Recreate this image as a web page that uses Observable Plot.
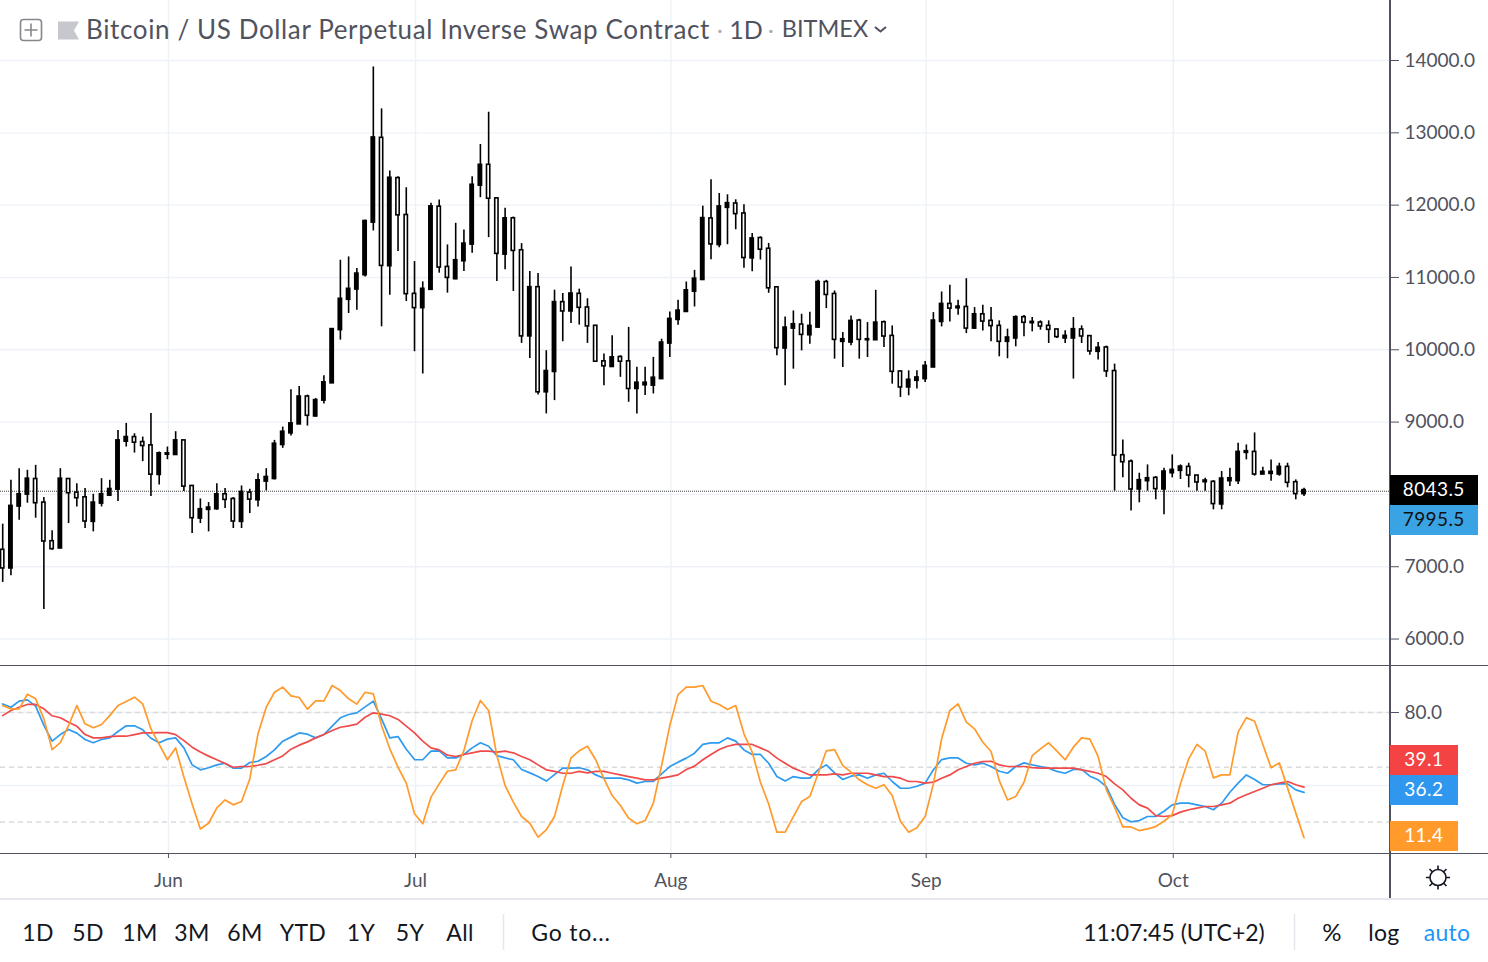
<!DOCTYPE html>
<html><head><meta charset="utf-8">
<script src="https://cdn.jsdelivr.net/npm/d3@7"></script>
<script src="https://cdn.jsdelivr.net/npm/@observablehq/plot@0.6"></script>
<style>
html,body{margin:0;padding:0;background:#fff;width:1488px;height:962px;overflow:hidden;font-family:Lato,sans-serif;}
#stage{position:relative;width:1488px;height:962px;overflow:hidden;}
#price,#osc{position:absolute;left:0;}
#price{top:0}#osc{top:665px}
svg{display:block}
.ln{position:absolute;background:#50535e}
.t{position:absolute;white-space:nowrap;line-height:1;transform:translate(-50%,-50%);letter-spacing:.3px;color:#131722;font-size:23px}
.tag{position:absolute;left:1389.5px;box-sizing:border-box;padding-bottom:3px;display:flex;align-items:center;justify-content:center;font-size:19px;letter-spacing:.4px;color:#fff}
</style></head><body><div id="stage"><div id="price"></div><div id="osc"></div></div>
<script>
const startDate = Date.UTC(2019, 4, 12);
const monthTicks = ["2019-06-01T03:00Z","2019-07-01T03:00Z","2019-08-01T03:00Z","2019-09-01T03:00Z","2019-10-01T03:00Z"];
const priceTicks = [6000,7000,8000,9000,10000,11000,12000,13000,14000];
const priceLabels = [6000,7000,9000,10000,11000,12000,13000,14000];
const oscTicks = [40,80];
const oscBands = [80,50,20];
const lastPrice = 8043.5, markPrice = 7995.5;
const oscLast = {red:"39.1",blue:"36.2",orange:"11.4"};
const ranges = ["1D","5D","1M","3M","6M","YTD","1Y","5Y","All"];

const opens = [7234,6976,7832,7997,8213,7887,7353,7252,8213,8025,7960,7620,7873,7983,8066,8729,8793,8724,8678,8269,8549,8545,8747,8117,7666,7786,7795,8002,7937,7620,8025,7919,8177,8213,8683,8844,8968,9354,9078,9297,9536,10272,10691,10833,11031,11758,12931,11155,12374,11864,10774,10576,10829,11979,11146,10976,11224,11454,12269,12558,12094,11316,11818,11376,10185,10866,9412,9693,10659,10530,10774,10585,10332,9840,9762,9900,9840,9458,9509,9504,9594,10086,10413,10523,10804,10965,11816,11448,11963,12023,11885,11264,11545,11397,10864,10017,10293,10349,10201,10307,10937,10772,10109,10100,10404,10132,10132,10381,10192,9700,9479,9571,9594,9755,10385,10634,10574,10592,10293,10491,10400,10331,10110,10156,10451,10368,10377,10331,10281,10156,10156,10281,10189,9972,10032,9706,8542,8454,8068,8183,8229,8068,8293,8326,8381,8261,8169,8174,7861,8183,8183,8574,8588,8275,8284,8275,8381,8169,8004];
const closes = [6976,7841,8002,8218,7878,7349,7243,8218,8016,7947,7625,7887,8002,8075,8747,8793,8715,8669,8273,8568,8568,8747,8108,7671,7795,7818,8002,7924,7625,8034,7928,8195,8241,8701,8867,8982,9354,9087,9304,9550,10286,10705,10843,11054,11781,12936,11160,12379,11859,10769,10576,10843,11983,11137,10994,11238,11468,12282,12558,12089,11326,11818,11367,10185,10866,9412,9706,10659,10530,10778,10580,10323,9835,9771,9895,9835,9458,9545,9545,9614,10100,10427,10542,10822,10983,11821,11457,11982,12028,11876,11269,11540,11384,10850,10022,10307,10353,10206,10330,10937,10758,10137,10146,10399,10137,10146,10376,10183,9695,9479,9585,9617,9778,10404,10634,10569,10597,10293,10491,10390,10327,10110,10170,10451,10373,10386,10322,10276,10175,10193,10285,10184,9977,10028,9701,8537,8445,8068,8197,8224,8073,8316,8339,8385,8261,8165,8192,7866,8220,8224,8588,8597,8275,8312,8312,8381,8160,8004,8059];
const highs = [7588,8195,8356,8333,8402,7956,7496,8356,8218,8149,8080,8002,8218,8195,8885,8982,8839,8793,9120,8586,8655,8867,8747,8117,7937,7887,8149,8080,7956,8117,8071,8287,8356,8747,8931,9446,9492,9373,9327,9642,10286,11238,11284,11123,11790,13911,13331,12471,12393,12241,11220,10939,12025,12071,11450,11749,11657,12393,12839,13285,12094,11956,11836,11468,11082,11054,9987,10824,10778,11146,10838,10705,10332,9941,10194,9918,10309,9757,9757,9895,10146,10523,10684,10937,11098,11986,12350,12161,12143,12074,12005,11609,11563,11471,10864,10454,10537,10491,10519,10960,10960,10813,10238,10468,10422,10376,10822,10399,10330,9709,9709,9709,9838,10514,10799,10891,10684,10983,10583,10615,10584,10400,10285,10469,10474,10446,10400,10400,10285,10262,10446,10331,10193,10101,10051,9802,8753,8477,8293,8408,8247,8362,8546,8408,8431,8266,8224,8192,8316,8362,8707,8684,8850,8376,8477,8431,8431,8201,8086];
const lows = [6783,6875,7643,7878,7671,6410,7229,7252,7597,7827,7528,7482,7827,7970,7901,8655,8572,8453,7970,8131,8480,8545,8039,7459,7597,7482,7781,7804,7528,7528,7735,7827,8048,8200,8637,8807,8968,8945,9069,9251,9536,10134,10502,10548,11008,11643,10318,10755,11358,10668,9973,9665,10829,11059,10783,10967,11082,11335,12103,11551,10944,11105,10806,10088,9881,9375,9113,9297,10111,10364,10341,10088,9826,9504,9757,9619,9274,9113,9366,9389,9594,9893,10339,10523,10592,10965,11246,11411,11453,11660,11126,11080,11241,10781,9916,9502,9732,9985,10077,10293,10569,9870,9755,10054,9870,9893,10132,10031,9525,9341,9364,9456,9548,9755,10316,10385,10477,10224,10284,10261,10110,9903,9876,10041,10179,10248,10271,10087,10156,10087,9595,10087,9926,9857,9618,8045,8229,7769,7884,8045,7925,7718,8229,8206,8091,8045,8045,7787,7787,8109,8137,8477,8252,8275,8183,8252,8091,7925,7971];

const orange = [83.8,82.0,82.0,90.0,87.5,76.5,59.7,63.5,72.9,83.8,73.8,71.6,73.4,78.3,83.8,86.0,88.4,84.7,71.0,62.5,54.1,60.6,44.6,29.9,16.2,19.3,27.7,32.1,29.4,31.2,43.6,68.3,82.9,91.1,93.9,89.1,88.2,81.8,86.4,86.4,94.8,92.0,87.5,84.6,91.1,90.2,72.9,60.1,50.0,41.3,24.5,19.0,33.6,40.9,47.8,48.6,59.2,75.6,86.6,81.1,56.4,40.0,30.9,23.0,19.3,11.7,15.7,23.0,40.0,55.1,59.0,61.5,54.1,43.6,34.5,29.0,22.1,19.0,20.8,30.3,50.9,72.9,89.8,93.9,93.9,94.8,86.2,84.4,81.6,83.8,68.3,58.3,41.8,29.9,14.4,14.4,23.0,31.2,34.0,46.4,59.0,59.7,50.9,47.3,43.1,40.4,38.5,40.4,34.5,20.4,14.4,16.8,23.0,40.9,65.6,81.1,84.7,74.7,71.0,63.7,58.6,42.7,32.1,34.0,41.8,56.4,60.1,63.4,58.8,54.1,61.0,66.1,65.4,55.9,37.6,28.1,17.3,17.3,15.3,16.2,17.5,20.4,24.1,40.9,54.6,62.5,58.8,44.2,45.8,45.8,69.2,77.2,75.2,62.5,49.7,52.4,38.7,25.0,11.4];
const blue = [84.7,82.9,86.2,86.9,83.5,72.9,64.3,67.9,70.7,68.7,65.2,63.4,65.2,66.1,69.6,72.7,72.7,70.5,65.9,63.4,65.4,66.1,60.6,51.3,48.6,49.7,51.3,52.2,49.5,49.5,52.6,53.3,55.9,59.5,64.3,66.5,68.8,68.1,66.1,67.9,72.5,77.1,78.9,79.8,83.1,86.2,76.5,66.1,66.8,59.9,54.2,54.1,58.8,59.0,55.1,55.1,57.0,60.6,63.4,61.5,56.4,55.1,54.1,48.8,46.9,44.9,42.4,46.0,49.5,49.5,49.7,48.6,45.8,44.0,44.0,44.0,43.1,41.3,42.2,42.2,46.4,50.4,52.8,55.0,57.7,62.5,63.4,63.4,66.1,64.3,59.5,57.0,57.0,52.2,44.9,42.4,44.9,44.0,44.0,48.6,51.3,46.9,43.3,45.1,45.8,44.0,45.8,46.7,42.2,38.5,38.5,39.6,41.3,48.6,54.2,55.1,55.1,52.2,51.3,52.2,50.4,47.8,46.7,50.4,52.4,51.3,50.4,49.5,47.7,46.7,48.8,48.8,45.1,43.1,39.4,29.6,22.3,20.1,20.8,23.0,23.0,25.9,29.4,30.3,30.3,29.4,28.5,26.7,30.3,36.3,41.3,45.8,43.3,40.4,40.4,40.9,40.9,37.6,36.2];
const red = [78.3,81.1,82.9,84.4,84.4,82.0,78.2,77.1,74.7,72.5,67.9,66.1,66.1,66.8,67.0,67.0,67.9,68.8,68.8,69.0,69.0,67.9,64.6,61.0,58.3,56.1,54.1,52.0,50.0,50.4,50.4,51.1,52.0,54.1,56.2,59.9,62.1,63.9,66.1,67.9,70.1,71.9,72.7,73.6,77.4,79.8,79.1,78.2,76.2,72.5,68.8,64.3,60.6,59.5,56.6,55.9,57.0,57.9,58.8,58.8,58.3,58.8,57.9,55.9,54.1,51.3,48.6,47.7,46.7,46.7,47.7,46.9,47.7,47.7,46.7,45.8,44.9,44.0,43.1,43.1,44.0,44.9,45.8,48.8,50.6,54.1,57.0,59.7,61.5,62.5,62.5,62.5,60.6,58.6,55.0,52.2,49.5,47.7,45.8,45.8,45.8,46.4,45.8,46.7,46.7,46.7,45.8,44.9,44.9,44.0,42.2,42.2,41.3,41.8,44.0,45.8,48.6,50.4,52.2,53.1,53.3,51.3,50.4,50.4,50.4,49.8,49.5,49.5,49.5,49.5,49.5,48.6,47.7,46.7,44.9,40.9,37.6,33.0,29.4,27.6,23.5,23.0,23.5,25.4,26.7,27.6,28.5,28.5,29.4,30.3,33.0,34.9,36.7,38.5,40.4,41.3,42.2,40.4,39.1];

const DAY = 864e5;
const dateAt = i => new Date(startDate + i*DAY);
const candles = opens.map((o,i)=>({date:dateAt(i),open:o,close:closes[i],high:highs[i],low:lows[i],up:closes[i]>=o}));
const xDomain = [new Date(startDate-0.267*DAY), new Date(startDate+168.5*DAY)];
const font = "Lato, sans-serif";
const tickCol = "#50535e", gridCol = "#eef2f8";
const monthDates = monthTicks.map(d=>new Date(d));
const HW = 0.2*DAY;

const pricePlot = Plot.plot({
  width:1488,height:665,marginLeft:0,marginRight:98,marginTop:0,marginBottom:0,
  style:{fontFamily:font,background:"transparent",overflow:"visible"},
  x:{type:"utc",domain:xDomain,range:[0,1390],axis:null},
  y:{domain:[5634,14830],range:[665,0],axis:null},
  marks:[
    Plot.ruleY(priceTicks,{stroke:gridCol,strokeWidth:1.4}),
    Plot.ruleX(monthDates,{stroke:gridCol,strokeWidth:1.4}),
    Plot.ruleY([lastPrice],{stroke:"#444",strokeDasharray:"1 1",strokeWidth:1.2}),
    Plot.ruleX(candles,{x:"date",y1:"low",y2:"high",stroke:"#000",strokeWidth:1.6}),
    Plot.rect(candles,{x1:d=>new Date(+d.date-HW),x2:d=>new Date(+d.date+HW),y1:"open",y2:"close",fill:d=>d.up?"#000":"#fff",stroke:"#000",strokeWidth:1.6}),
    Plot.axisY(priceLabels,{anchor:"right",label:null,tickSize:8,tickPadding:6,fontSize:19,stroke:tickCol,color:tickCol,tickFormat:d3.format(".1f")})
  ]
});
document.getElementById("price").append(pricePlot);

const series = [["orange",orange,"#ff9a2b"],["blue",blue,"#2f9bf0"],["red",red,"#f04b4b"]];
const oscPlot = Plot.plot({
  width:1488,height:233,marginLeft:0,marginRight:98,marginTop:0,marginBottom:45,
  style:{fontFamily:font,background:"transparent",overflow:"visible"},
  x:{type:"utc",domain:xDomain,range:[0,1390],axis:null},
  y:{domain:[2.74,105.75],range:[188,0],axis:null},
  marks:[
    Plot.ruleY(oscTicks,{stroke:gridCol,strokeWidth:1.4}),
    Plot.ruleX(monthDates,{stroke:gridCol,strokeWidth:1.4}),
    Plot.ruleY(oscBands,{stroke:"#d9dadb",strokeWidth:1.4,strokeDasharray:"5 4"}),
    ...[series[1],series[2],series[0]].map(([n,v,c])=>Plot.line(v,{x:(d,i)=>dateAt(i),y:d=>d,stroke:c,strokeWidth:1.7,curve:"linear"})),
    Plot.axisY([80],{anchor:"right",label:null,tickSize:8,tickPadding:6,fontSize:19,color:tickCol,tickFormat:d3.format(".1f")}),
    Plot.axisX(monthDates,{anchor:"bottom",label:null,tickSize:5,tickPadding:15,fontSize:19,color:tickCol,tickFormat:d3.utcFormat("%b")})
  ]
});
document.getElementById("osc").append(oscPlot);

const stage = document.getElementById("stage");
function el(cls,css,text){const e=document.createElement("div");e.className=cls;e.style.cssText=css;if(text!=null)e.textContent=text;stage.append(e);return e;}
el("ln","left:0;top:664.5px;width:1488px;height:1.5px");
el("ln","left:0;top:852.6px;width:1488px;height:1.5px");
el("ln","left:1389.3px;top:0;width:1.4px;height:898px");
el("ln","left:0;top:897.5px;width:1488px;height:2px;background:#e6e7ee");
el("tag","top:474.5px;width:88.5px;height:30px;background:#000",lastPrice.toFixed(1));
el("tag","top:504.5px;width:88.5px;height:30px;background:#3aa3e3;color:#111",markPrice.toFixed(1));
el("tag","top:745px;width:68.5px;height:30px;background:#f44343",oscLast.red);
el("tag","top:775px;width:68.5px;height:30px;background:#2f98ee",oscLast.blue);
el("tag","top:821px;width:68.5px;height:30px;background:#ff9a2b",oscLast.orange);
el("t","left:398px;top:29px;color:#50535e;font-size:26px;letter-spacing:.62px","Bitcoin / US Dollar Perpetual Inverse Swap Contract");
el("t","left:746px;top:29px;color:#50535e;font-size:25px;letter-spacing:0","1D");
el("t","left:825px;top:29px;color:#50535e;font-size:23.5px;letter-spacing:0","BITMEX");
el("t","left:720px;top:30px;color:#a9abb3;font-size:22px","·");
el("t","left:771px;top:30px;color:#a9abb3;font-size:22px","·");
const icons=document.createElement("div");
icons.innerHTML=`<svg style="position:absolute;left:0;top:0;pointer-events:none" width="1488" height="962">
<rect x="20.5" y="19.5" width="21" height="21" rx="3" fill="none" stroke="#85878f" stroke-width="1.6"/>
<path d="M31 23.5v13M24.5 30h13" stroke="#85878f" stroke-width="1.6"/>
<path d="M58 21.5h21l-5 9 5 9h-21z" fill="#c6c8ce"/>
<path d="M875 27l5.5 4.5 5.5-4.5" fill="none" stroke="#50535e" stroke-width="2"/>
<circle cx="1438" cy="877.5" r="8" fill="none" stroke="#131722" stroke-width="1.6"/>
<g stroke="#131722" stroke-width="1.6"><path d="M1438 865.5v4M1438 885.5v4M1426 877.5h4M1446 877.5h4M1429.5 869l2.8 2.8M1443.7 883.2l2.8 2.8M1446.5 869l-2.8 2.8M1432.3 883.2l-2.8 2.8"/></g>
<path d="M503.5 914v36M1294.5 914v36" stroke="#e6e7ee" stroke-width="1.5"/>
</svg>`;
stage.append(icons);
const rangeX=[38,88,140,192,245,303,361,410,460];
ranges.forEach((r,i)=>el("t",`left:${rangeX[i]}px;top:932px`,r));
el("t","left:571px;top:932px;letter-spacing:.8px","Go to...");
el("t","left:1174px;top:932px;letter-spacing:0","11:07:45 (UTC+2)");
el("t","left:1332px;top:932px;font-size:24px","%");
el("t","left:1384px;top:932px","log");
el("t","left:1447px;top:932px;color:#2196f3","auto");
</script></body></html>
